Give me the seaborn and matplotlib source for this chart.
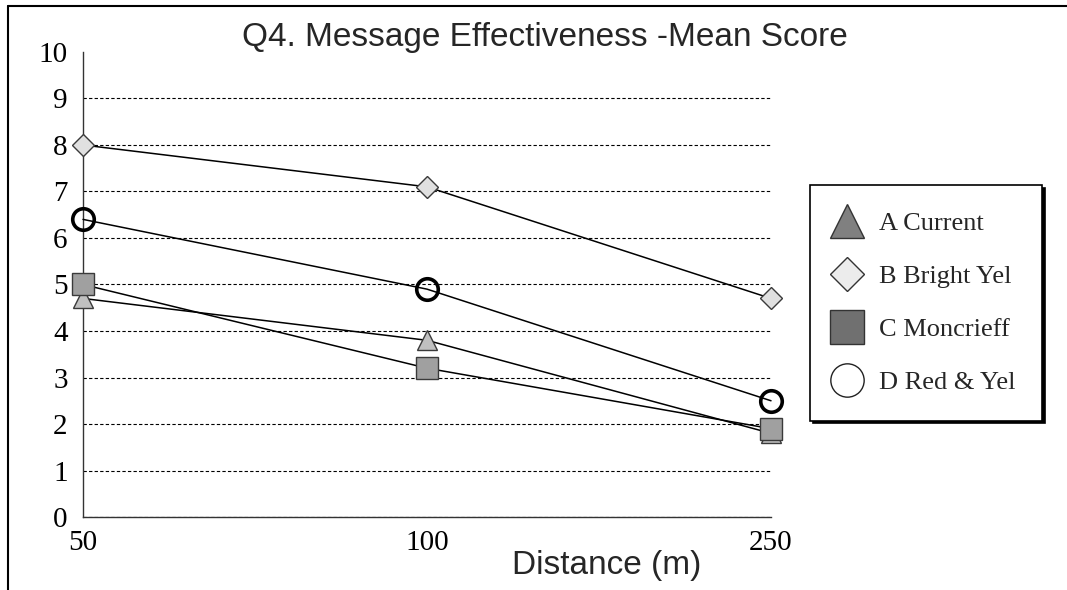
import matplotlib
matplotlib.use("Agg")
import matplotlib.pyplot as plt
from matplotlib.lines import Line2D
import seaborn as sns
import pandas as pd

# Mean effectiveness scores by viewing distance
distances = ["50", "100", "250"]
a_current = [4.7, 3.8, 1.8]
b_bright_yel = [8.0, 7.1, 4.7]
c_moncrieff = [5.0, 3.2, 1.9]
d_red_yel = [6.4, 4.9, 2.5]
series_names = ["A Current", "B Bright Yel", "C Moncrieff", "D Red & Yel"]
y_ticks = [0, 1, 2, 3, 4, 5, 6, 7, 8, 9, 10]

SERIF = "Liberation Serif"
SANS = "Liberation Sans"

sns.set_theme(style="white")
plt.rcParams["font.family"] = [SERIF, "DejaVu Sans"]

fig = plt.figure(figsize=(10.67, 5.90), dpi=100)
ax = fig.add_axes([0.0778, 0.1237, 0.7226 - 0.0778, 0.9119 - 0.1237])

df = pd.DataFrame({
    "distance": distances * 4,
    "score": a_current + b_bright_yel + c_moncrieff + d_red_yel,
    "series": [n for n in series_names for _ in distances],
})

styles = {
    "D Red & Yel": dict(marker="o", markersize=15.5, markerfacecolor="none",
                        markeredgecolor="black", markeredgewidth=2.6),
    "A Current": dict(marker="^", markersize=15, markerfacecolor="#c0c0c0",
                      markeredgecolor="#3a3a3a", markeredgewidth=1.0),
    "C Moncrieff": dict(marker="s", markersize=16, markerfacecolor="#a0a0a0",
                        markeredgecolor="#3a3a3a", markeredgewidth=1.0),
    "B Bright Yel": dict(marker="D", markersize=11, markerfacecolor="#e0e0e0",
                         markeredgecolor="#3a3a3a", markeredgewidth=1.0),
}

for name, st in styles.items():
    sub = df[df["series"] == name]
    sns.lineplot(data=sub, x="distance", y="score", ax=ax, color="black",
                 linewidth=1.1, clip_on=False, zorder=5, **st)

ax.set_xlim(0, 2)
ax.set_ylim(0, 10)
ax.set_yticks(y_ticks)
ax.set_yticklabels([str(t) for t in y_ticks])
ax.set_xlabel("")
ax.set_ylabel("")

# dashed horizontal grid, none along the top edge
ax.yaxis.grid(True, linestyle=(0, (3, 2)), color="black", linewidth=0.8)
ax.xaxis.grid(False)
ax.get_ygridlines()[-1].set_visible(False)
ax.set_axisbelow(True)

for side in ["top", "right"]:
    ax.spines[side].set_visible(False)
for side in ["left", "bottom"]:
    ax.spines[side].set_color("#333333")
    ax.spines[side].set_linewidth(1.0)

ax.tick_params(axis="both", length=0, labelsize=21, labelcolor="black")
ax.tick_params(axis="y", pad=11)
ax.tick_params(axis="x", pad=9)
for lab in ax.get_xticklabels() + ax.get_yticklabels():
    lab.set_fontfamily(SERIF)

fig.text(0.511, 0.937, "Q4. Message Effectiveness -Mean Score",
         ha="center", va="center", fontsize=24, family=SANS)
fig.text(0.569, 0.042, "Distance (m)", ha="center", va="center",
         fontsize=24, family=SANS)

# legend with larger, darker markers and no connecting lines
legend_handles = [
    Line2D([], [], linestyle="none", marker="^", markersize=24,
           markerfacecolor="#808080", markeredgecolor="#333333", markeredgewidth=1.0),
    Line2D([], [], linestyle="none", marker="D", markersize=17,
           markerfacecolor="#ececec", markeredgecolor="#333333", markeredgewidth=1.0),
    Line2D([], [], linestyle="none", marker="s", markersize=24,
           markerfacecolor="#707070", markeredgecolor="#333333", markeredgewidth=1.0),
    Line2D([], [], linestyle="none", marker="o", markersize=24,
           markerfacecolor="white", markeredgecolor="#222222", markeredgewidth=1.0),
]
leg = fig.legend(legend_handles, series_names, loc="upper left",
                 bbox_to_anchor=(0.759, 0.686), bbox_transform=fig.transFigure,
                 frameon=True, fancybox=False,
                 shadow={"facecolor": "black", "edgecolor": "black", "alpha": 1.0},
                 prop={"family": SERIF, "size": 19},
                 handlelength=0.8, handletextpad=0.83, labelspacing=1.12,
                 borderpad=1.0, borderaxespad=0)
leg.get_frame().set_edgecolor("black")
leg.get_frame().set_linewidth(1.2)
leg.get_frame().set_facecolor("white")

# outer frame of the chart area
fig.add_artist(Line2D([8 / 1067, 1.0], [1 - 6 / 590, 1 - 6 / 590],
                      transform=fig.transFigure, color="black", linewidth=1.5))
fig.add_artist(Line2D([8 / 1067, 8 / 1067], [0.0, 1 - 6 / 590],
                      transform=fig.transFigure, color="black", linewidth=1.5))

fig.savefig("out.png", dpi=100)
